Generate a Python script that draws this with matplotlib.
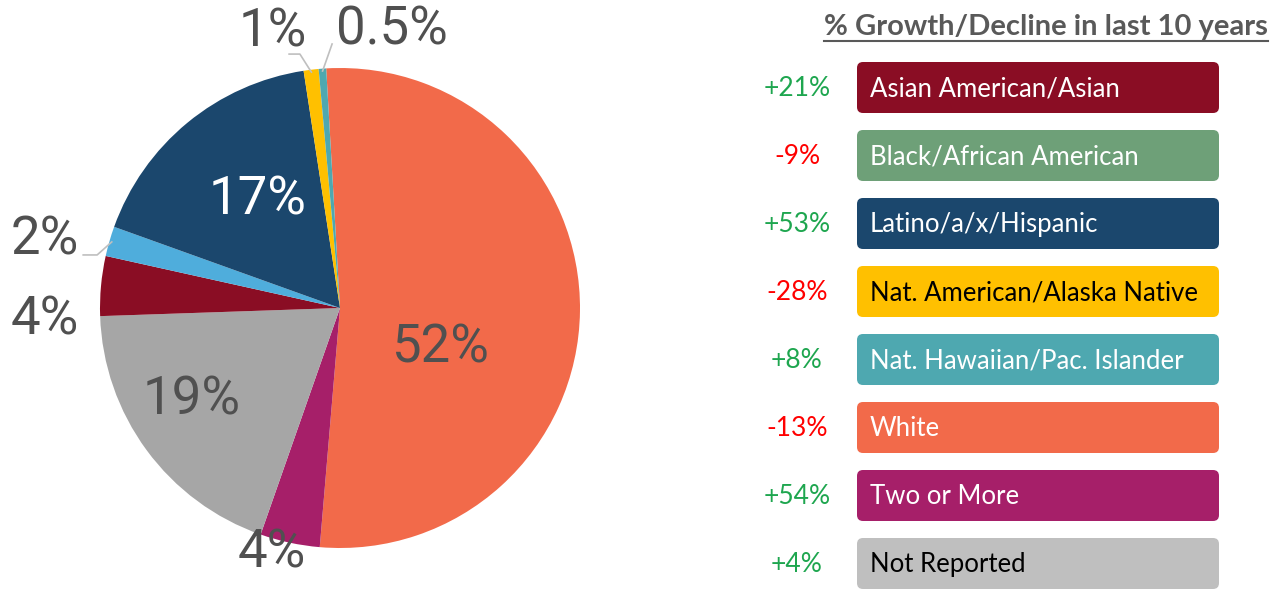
import matplotlib
matplotlib.use("Agg")
import matplotlib.pyplot as plt
from matplotlib.patches import FancyBboxPatch
import numpy as np

# ---- data ----
pie_labels = ["White", "Two or More", "Not Reported", "Asian American/Asian",
              "Black/African American", "Latino/a/x/Hispanic",
              "Nat. American/Alaska Native", "Nat. Hawaiian/Pac. Islander"]
pie_values = [52, 4, 19, 4, 2, 17, 1, 0.5]
pie_texts = ["52%", "4%", "19%", "4%", "2%", "17%", "1%", "0.5%"]
pie_colors = ["#F26A4A", "#A61F69", "#A6A6A6", "#8A0D24", "#4FADDC",
              "#1B476D", "#FFC000", "#4EA8B0"]

legend_labels = ["Asian American/Asian", "Black/African American",
                 "Latino/a/x/Hispanic", "Nat. American/Alaska Native",
                 "Nat. Hawaiian/Pac. Islander", "White", "Two or More",
                 "Not Reported"]
growth = [21, -9, 53, -28, 8, -13, 54, 4]
legend_colors = ["#8A0D24", "#6EA078", "#1B476D", "#FFC000", "#4EA8B0",
                 "#F26A4A", "#A61F69", "#BFBFBF"]
legend_text_colors = ["white", "white", "white", "black", "white", "white",
                      "white", "black"]
title = "% Growth/Decline in last 10 years"

W, H = 1274, 589
fig = plt.figure(figsize=(W / 100, H / 100), dpi=100)

# ---- pie ----
cx, cy, R = 340, 308, 240
ax = fig.add_axes([(cx - R) / W, (H - cy - R) / H, 2 * R / W, 2 * R / H])
wedges, _ = ax.pie(pie_values, colors=pie_colors, startangle=93.3,
                   counterclock=False, radius=1.0,
                   wedgeprops=dict(linewidth=0))
ax.set_xlim(-1, 1)
ax.set_ylim(-1, 1)
ax.set_aspect("equal")
ax.axis("off")

lab_color = "#505050"
lab_font = "Roboto"
fs = 38
# label positions in data units (pie radius = 1)
positions = [(0.417, -0.167), (-0.283, -1.02), (-0.617, -0.383), (-1.229, -0.05),
             (-1.229, 0.283), (-0.342, 0.45), (-0.279, 1.15), (0.217, 1.158)]
for i, t in enumerate(pie_texts):
    x, y = positions[i]
    col = "white" if i == 5 else lab_color
    ax.text(x, y, t, ha="center", va="center", fontsize=fs, color=col,
            family=lab_font, clip_on=False)

def mid_point(w, r=1.0):
    a = np.deg2rad((w.theta1 + w.theta2) / 2)
    return r * np.cos(a), r * np.sin(a)

lc = "#BFBFBF"
x0, y0 = mid_point(wedges[6], 0.99)
ax.plot([x0, -0.167, -0.212], [y0, 1.058, 1.058], color=lc, lw=1.2, clip_on=False)
x0, y0 = mid_point(wedges[7], 0.99)
ax.plot([x0, -0.033], [y0, 1.10], color=lc, lw=1.2, clip_on=False)
x0, y0 = mid_point(wedges[4], 0.99)
ax.plot([x0, -1.012, -1.07], [y0, 0.221, 0.221], color=lc, lw=1.2, clip_on=False)

# ---- legend panel ----
lax = fig.add_axes([0, 0, 1, 1])
lax.set_xlim(0, W)
lax.set_ylim(H, 0)
lax.axis("off")

tfont = "Lato"
tt = lax.text(1046, 27, title, ha="center", va="center", fontsize=21,
              fontweight="bold", color="#595959", family=tfont)
fig.canvas.draw()
bb = tt.get_window_extent()
lax.plot([bb.x0, bb.x1], [41, 41], color="#595959", lw=1.5)

box_x0, box_x1 = 857, 1219
top0, step, bh = 62, 68, 51
for i, (lab, g, c, tc) in enumerate(zip(legend_labels, growth, legend_colors,
                                         legend_text_colors)):
    top = top0 + i * step
    p = FancyBboxPatch((box_x0 + 6, top + 6), box_x1 - box_x0 - 12, bh - 12,
                       boxstyle="round,pad=6", facecolor=c, edgecolor="none")
    lax.add_patch(p)
    lax.text(box_x0 + 13, top + bh / 2 + 1, lab, ha="left", va="center",
             fontsize=18.5, color=tc, family=tfont)
    gcol = "#1EA64F" if g > 0 else "#FF0000"
    gtxt = f"+{g}%" if g > 0 else f"{g}%"
    lax.text(797, top + bh / 2 + 1, gtxt, ha="center", va="center",
             fontsize=19, color=gcol, family=tfont)

fig.savefig("out.png", dpi=100)
